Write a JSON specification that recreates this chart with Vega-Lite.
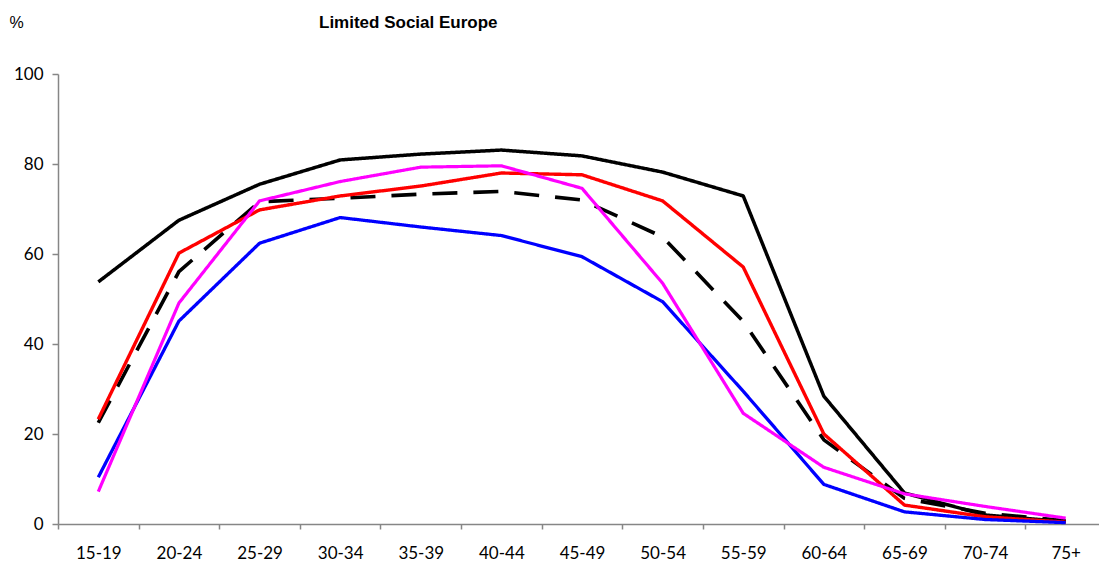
{
  "$schema": "https://vega.github.io/schema/vega-lite/v6.json",
  "autosize": "none",
  "width": 1048,
  "height": 450,
  "padding": {"left": 58, "top": 74, "right": 0, "bottom": 48},
  "background": "white",
  "title": {
    "text": "Limited Social Europe",
    "anchor": "start",
    "dx": 310,
    "dy": 18,
    "font": "Liberation Sans",
    "fontSize": 17,
    "fontWeight": "bold",
    "color": "black",
    "offset": 0
  },
  "config": {"view": {"stroke": null}},
  "data": {
    "values": [
      {"series": "Series D", "age": "15-19", "value": 22.5},
      {"series": "Series D", "age": "20-24", "value": 56.1},
      {"series": "Series D", "age": "25-29", "value": 71.6},
      {"series": "Series D", "age": "30-34", "value": 72.4},
      {"series": "Series D", "age": "35-39", "value": 73.3},
      {"series": "Series D", "age": "40-44", "value": 73.9},
      {"series": "Series D", "age": "45-49", "value": 72.0},
      {"series": "Series D", "age": "50-54", "value": 63.8},
      {"series": "Series D", "age": "55-59", "value": 45.0},
      {"series": "Series D", "age": "60-64", "value": 18.7},
      {"series": "Series D", "age": "65-69", "value": 5.7},
      {"series": "Series D", "age": "70-74", "value": 2.4},
      {"series": "Series D", "age": "75+", "value": 0.7},
      {"series": "Series A", "age": "15-19", "value": 53.8},
      {"series": "Series A", "age": "20-24", "value": 67.5},
      {"series": "Series A", "age": "25-29", "value": 75.5},
      {"series": "Series A", "age": "30-34", "value": 80.9},
      {"series": "Series A", "age": "35-39", "value": 82.2},
      {"series": "Series A", "age": "40-44", "value": 83.1},
      {"series": "Series A", "age": "45-49", "value": 81.8},
      {"series": "Series A", "age": "50-54", "value": 78.2},
      {"series": "Series A", "age": "55-59", "value": 72.9},
      {"series": "Series A", "age": "60-64", "value": 28.4},
      {"series": "Series A", "age": "65-69", "value": 6.9},
      {"series": "Series A", "age": "70-74", "value": 2.0},
      {"series": "Series A", "age": "75+", "value": 0.5},
      {"series": "Series B", "age": "15-19", "value": 23.3},
      {"series": "Series B", "age": "20-24", "value": 60.2},
      {"series": "Series B", "age": "25-29", "value": 69.8},
      {"series": "Series B", "age": "30-34", "value": 72.9},
      {"series": "Series B", "age": "35-39", "value": 75.1},
      {"series": "Series B", "age": "40-44", "value": 78.0},
      {"series": "Series B", "age": "45-49", "value": 77.6},
      {"series": "Series B", "age": "50-54", "value": 71.8},
      {"series": "Series B", "age": "55-59", "value": 57.1},
      {"series": "Series B", "age": "60-64", "value": 20.0},
      {"series": "Series B", "age": "65-69", "value": 4.2},
      {"series": "Series B", "age": "70-74", "value": 1.6},
      {"series": "Series B", "age": "75+", "value": 0.4},
      {"series": "Series E", "age": "15-19", "value": 10.4},
      {"series": "Series E", "age": "20-24", "value": 45.1},
      {"series": "Series E", "age": "25-29", "value": 62.4},
      {"series": "Series E", "age": "30-34", "value": 68.1},
      {"series": "Series E", "age": "35-39", "value": 66.0},
      {"series": "Series E", "age": "40-44", "value": 64.1},
      {"series": "Series E", "age": "45-49", "value": 59.4},
      {"series": "Series E", "age": "50-54", "value": 49.4},
      {"series": "Series E", "age": "55-59", "value": 29.5},
      {"series": "Series E", "age": "60-64", "value": 8.8},
      {"series": "Series E", "age": "65-69", "value": 2.7},
      {"series": "Series E", "age": "70-74", "value": 1.0},
      {"series": "Series E", "age": "75+", "value": 0.3},
      {"series": "Series C", "age": "15-19", "value": 7.2},
      {"series": "Series C", "age": "20-24", "value": 49.1},
      {"series": "Series C", "age": "25-29", "value": 71.8},
      {"series": "Series C", "age": "30-34", "value": 76.1},
      {"series": "Series C", "age": "35-39", "value": 79.3},
      {"series": "Series C", "age": "40-44", "value": 79.6},
      {"series": "Series C", "age": "45-49", "value": 74.6},
      {"series": "Series C", "age": "50-54", "value": 53.5},
      {"series": "Series C", "age": "55-59", "value": 24.6},
      {"series": "Series C", "age": "60-64", "value": 12.6},
      {"series": "Series C", "age": "65-69", "value": 6.7},
      {"series": "Series C", "age": "70-74", "value": 3.9},
      {"series": "Series C", "age": "75+", "value": 1.3}
    ]
  },
  "mark": {"type": "line", "strokeJoin": "round"},
  "encoding": {
    "x": {
      "field": "age",
      "type": "ordinal",
      "sort": null,
      "scale": {"type": "point", "padding": 0.5},
      "axis": {
        "title": null,
        "labelAngle": 0,
        "labelFont": "Lato",
        "labelFontSize": 17,
        "labelColor": "black",
        "labelPadding": 16,
        "tickOffset": -40.3,
        "labelOffset": 40.3,
        "tickSize": 5,
        "tickColor": "#868686",
        "domainColor": "#868686",
        "domainWidth": 1.5,
        "tickWidth": 1.5,
        "grid": false
      }
    },
    "y": {
      "field": "value",
      "type": "quantitative",
      "scale": {"domain": [0, 100], "nice": false},
      "axis": {
        "title": "%",
        "titleAngle": 0,
        "titleX": -49,
        "titleY": -47,
        "titleAlign": "left",
        "titleBaseline": "alphabetic",
        "titleFont": "Liberation Sans",
        "titleFontSize": 16,
        "titleFontWeight": "normal",
        "titleColor": "black",
        "values": [0, 20, 40, 60, 80, 100],
        "labelFont": "Lato",
        "labelFontSize": 17,
        "labelColor": "black",
        "labelPadding": 9,
        "tickSize": 6,
        "tickColor": "#868686",
        "domainColor": "#868686",
        "domainWidth": 1.5,
        "tickWidth": 1.5,
        "grid": false
      }
    },
    "color": {
      "field": "series",
      "type": "nominal",
      "sort": null,
      "scale": {"domain": ["Series D", "Series A", "Series B", "Series E", "Series C"], "range": ["#000000", "#000000", "#FF0000", "#0000FF", "#FF00FF"]},
      "legend": null
    },
    "strokeDash": {
      "field": "series",
      "type": "nominal",
      "sort": null,
      "scale": {"domain": ["Series D", "Series A", "Series B", "Series E", "Series C"], "range": [[25, 16], [1, 0], [1, 0], [1, 0], [1, 0]]},
      "legend": null
    },
    "strokeWidth": {
      "field": "series",
      "type": "nominal",
      "sort": null,
      "scale": {"domain": ["Series D", "Series A", "Series B", "Series E", "Series C"], "range": [3.6, 3.2, 3.2, 3.2, 3.2]},
      "legend": null
    }
  }
}
